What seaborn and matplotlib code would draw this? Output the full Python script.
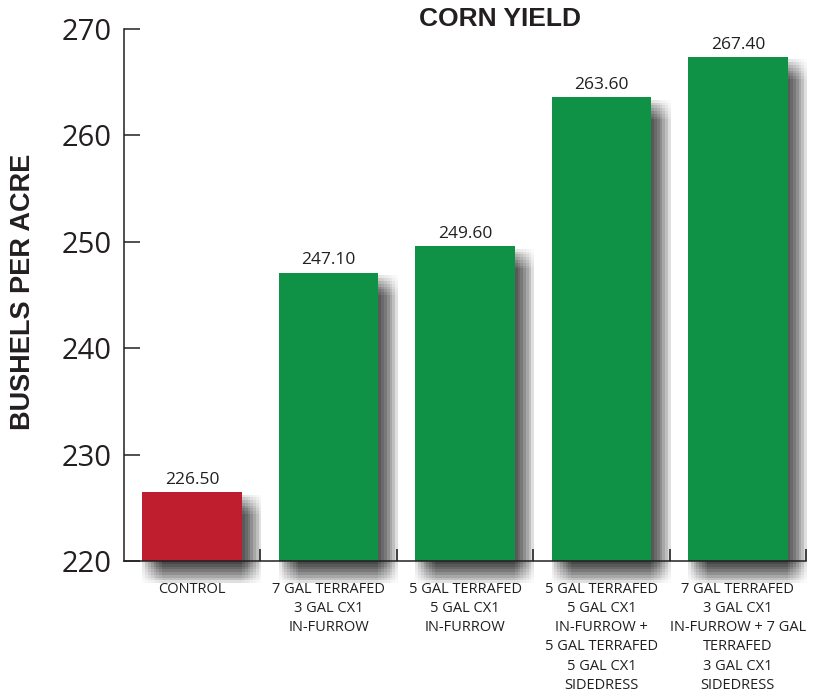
import matplotlib
matplotlib.use("Agg")
import matplotlib.pyplot as plt
import matplotlib.patheffects as pe
import numpy as np
import seaborn as sns

# datos
categorias = [
    "CONTROL",
    "7 GAL TERRAFED\n3 GAL CX1\nIN-FURROW",
    "5 GAL TERRAFED\n5 GAL CX1\nIN-FURROW",
    "5 GAL TERRAFED\n5 GAL CX1\nIN-FURROW +\n5 GAL TERRAFED\n5 GAL CX1\nSIDEDRESS",
    "7 GAL TERRAFED\n3 GAL CX1\nIN-FURROW + 7 GAL\nTERRAFED\n3 GAL CX1\nSIDEDRESS",
]
rendimiento = [226.5, 247.1, 249.6, 263.6, 267.4]
colores = ["#be1e2d", "#0f9246", "#0f9246", "#0f9246", "#0f9246"]
yticks = [220, 230, 240, 250, 260, 270]
base = 220

sns.set_style("white")
plt.rcParams["font.family"] = ["Open Sans", "DejaVu Sans"]
ink = "#231f20"

fig = plt.figure(figsize=(8.33, 6.96), dpi=100)
ax = fig.add_axes([0.1489, 0.194, 0.8187, 0.7643])

sns.barplot(x=categorias, y=rendimiento, hue=categorias, palette=colores,
            legend=False, width=0.73, saturation=1, ax=ax)

# sombra difusa: pocas copias desplazadas y transparentes
# (con demasiadas capas el redondeo de 8 bits la oscurece)
sombra = []
for dx in np.arange(0, 14.1, 2.0):
    for dy in np.arange(-16, -1.9, 2.0):
        sombra.append(pe.SimplePatchShadow(offset=(dx, dy),
                                           shadow_rgbFace=(0, 0, 0),
                                           alpha=0.015))
sombra.append(pe.Normal())

for p in ax.patches:
    h = p.get_height()
    p.set_y(base)
    p.set_height(h - base)
    p.set_clip_on(False)
    p.set_linewidth(0)
    p.set_path_effects(sombra)

for cont in ax.containers:
    ax.bar_label(cont, labels=[f"{v:.2f}" for v in cont.datavalues],
                 padding=3, fontsize=12.5, color=ink)

ax.set_ylim(base, 270)
ax.set_xlim(-0.5, 4.5)
ax.set_yticks(yticks)
ax.tick_params(axis="y", direction="in", length=11.5, width=1.1, color=ink,
               labelsize=21, labelcolor=ink, pad=9, left=True)
ax.tick_params(axis="x", which="major", length=0, pad=15, labelsize=10.5,
               labelcolor=ink)
ax.set_xticks([0.5, 1.5, 2.5, 3.5, 4.5], minor=True)
ax.tick_params(axis="x", which="minor", direction="in", length=8.6, width=1.1,
               color=ink, bottom=True)
for t in ax.get_xticklabels():
    t.set_linespacing(1.38)

sns.despine(ax=ax)
for s in ["left", "bottom"]:
    ax.spines[s].set_color(ink)
    ax.spines[s].set_linewidth(1.1)

ax.set_xlabel("")
ax.set_ylabel("BUSHELS PER ACRE", fontsize=19.5, fontweight="bold",
              family="Liberation Sans", color=ink)
ax.yaxis.set_label_coords(-0.129, 0.505)
fig.text(0.6, 0.973, "CORN YIELD", ha="center", va="center", fontsize=19,
         fontweight="bold", family="Liberation Sans", color=ink)

plt.savefig("out.png", dpi=100)
